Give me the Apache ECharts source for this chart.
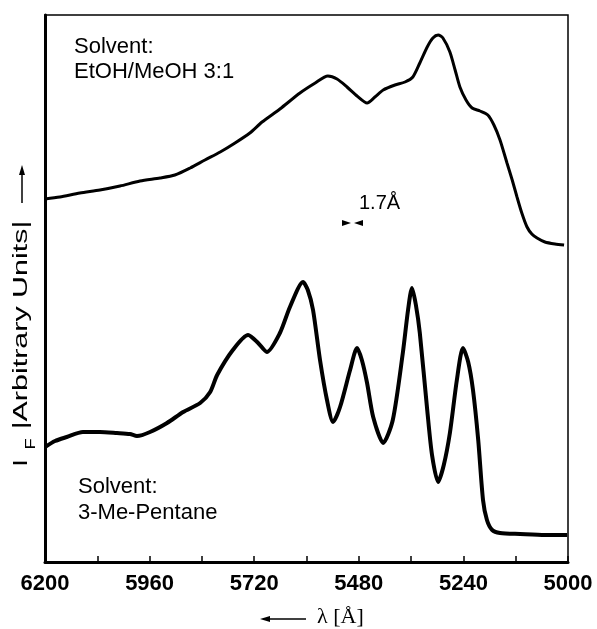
<!DOCTYPE html>
<html>
<head>
<meta charset="utf-8">
<script src="https://cdn.jsdelivr.net/npm/echarts@6/dist/echarts.min.js"></script>
<style>
  html, body { margin: 0; padding: 0; background: #fff; }
  #chart { width: 597px; height: 629px; }
</style>
</head>
<body>
<div id="chart"></div>
<script>
// EtOH/MeOH 3:1 spectrum (upper trace)
const ethanolWavelength = [6200, 6166, 6120, 6074, 6028, 5982, 5936, 5902, 5867, 5833, 5798, 5764, 5730, 5702, 5661, 5615, 5580, 5551, 5530, 5507, 5484, 5461, 5443, 5424, 5397, 5374, 5356, 5340, 5323, 5310, 5298, 5287, 5271, 5259, 5248, 5234, 5220, 5202, 5184, 5170, 5156, 5140, 5128, 5117, 5106, 5094, 5083, 5071, 5053, 5030, 5009];
const ethanolIntensity = [363, 365, 369, 372, 376, 381, 384, 387, 394, 402, 410, 419, 429, 440, 453, 469, 479, 486, 483, 475, 466, 459, 465, 472, 477, 480, 485, 499, 515, 524, 527, 524, 510, 492, 475, 462, 454, 451, 447, 437, 422, 399, 382, 365, 349, 335, 328, 324, 320, 318, 317];

// 3-Me-Pentane spectrum (lower trace)
const pentaneWavelength = [6200, 6177, 6150, 6113, 6074, 6035, 6005, 5989, 5959, 5920, 5883, 5844, 5821, 5805, 5769, 5734, 5711, 5691, 5661, 5638, 5608, 5597, 5585, 5569, 5553, 5539, 5523, 5500, 5484, 5473, 5461, 5447, 5424, 5402, 5379, 5367, 5358, 5349, 5340, 5323, 5312, 5298, 5285, 5271, 5255, 5241, 5229, 5218, 5206, 5195, 5186, 5174, 5156, 5110, 5053, 5002];
const pentaneIntensity = [115, 121, 125, 130, 130, 129, 128, 126, 130, 139, 150, 159, 170, 187, 212, 227, 219, 210, 229, 255, 280, 272, 252, 202, 162, 140, 155, 192, 214, 202, 179, 145, 119, 142, 209, 252, 274, 257, 229, 152, 107, 80, 97, 129, 182, 214, 200, 172, 122, 62, 42, 32, 29, 28, 27, 27];

const tickValues = [5000, 5120, 5240, 5360, 5480, 5600, 5720, 5840, 5960, 6080, 6200];
const labelValues = [5000, 5240, 5480, 5720, 5960, 6200];

const zip = (xs, ys) => xs.map((x, i) => [x, ys[i]]);
const sans = "Liberation Sans, Arial, sans-serif";

const chart = echarts.init(document.getElementById("chart"), null, { renderer: "canvas" });

chart.setOption({
  animation: false,
  grid: {
    left: 45, right: 29, top: 15, bottom: 67,
    show: true, borderColor: "#000", borderWidth: 1.5, backgroundColor: "transparent",
  },
  xAxis: {
    type: "value",
    min: 5000,
    max: 6200,
    inverse: true,
    axisLine: { show: true, lineStyle: { color: "#000", width: 3 } },
    axisTick: { show: true, inside: true, length: 6, customValues: tickValues, lineStyle: { color: "#000", width: 1.5 } },
    axisLabel: {
      customValues: labelValues,
      formatter: (value) => String(value),
      margin: 11,
      color: "#000",
      fontFamily: sans,
      fontWeight: "bold",
      fontSize: 22,
    },
    splitLine: { show: false },
  },
  yAxis: {
    type: "value",
    min: 0,
    max: 547,
    axisLine: { show: true, lineStyle: { color: "#000", width: 3 } },
    axisTick: { show: false },
    axisLabel: { show: false },
    splitLine: { show: false },
  },
  series: [
    {
      name: "EtOH/MeOH 3:1",
      type: "line",
      data: zip(ethanolWavelength, ethanolIntensity),
      showSymbol: false,
      smooth: 0.25,
      lineStyle: { color: "#000", width: 3 },
    },
    {
      name: "3-Me-Pentane",
      type: "line",
      data: zip(pentaneWavelength, pentaneIntensity),
      showSymbol: false,
      smooth: 0.25,
      lineStyle: { color: "#000", width: 4 },
    },
  ],
  graphic: [
    // solvent captions
    { type: "text", left: 74, top: 36, style: { text: "Solvent:", font: `22px ${sans}`, fill: "#000" } },
    { type: "text", left: 74, top: 61, style: { text: "EtOH/MeOH 3:1", font: `22px ${sans}`, fill: "#000" } },
    { type: "text", left: 78, top: 476, style: { text: "Solvent:", font: `22px ${sans}`, fill: "#000" } },
    { type: "text", left: 78, top: 502, style: { text: "3-Me-Pentane", font: `22px ${sans}`, fill: "#000" } },
    // resolution marker
    { type: "text", left: 359, top: 193, style: { text: "1.7Å", font: `20px ${sans}`, fill: "#000" } },
    { type: "polygon", shape: { points: [[342, 220], [351, 223], [342, 226]] }, style: { fill: "#000" } },
    { type: "polygon", shape: { points: [[363, 220], [354, 223], [363, 226]] }, style: { fill: "#000" } },
    // y-axis title, stretched along its length like the original
    {
      type: "text", x: 21, y: 325, rotation: Math.PI / 2, scaleX: 1.45,
      style: { text: "|Arbitrary Units|", font: `21px ${sans}`, fill: "#000", align: "center", verticalAlign: "middle" },
    },
    {
      type: "text", x: 21, y: 463, rotation: Math.PI / 2, scaleX: 1.3,
      style: { text: "I", font: `21px ${sans}`, fill: "#000", align: "center", verticalAlign: "middle" },
    },
    {
      type: "text", x: 31, y: 444, rotation: Math.PI / 2, scaleX: 1.3,
      style: { text: "F", font: `14px ${sans}`, fill: "#000", align: "center", verticalAlign: "middle" },
    },
    { type: "line", shape: { x1: 22, y1: 172, x2: 22, y2: 203 }, style: { stroke: "#000", lineWidth: 1.5 } },
    { type: "polygon", shape: { points: [[19, 175], [22, 165], [25, 175]] }, style: { fill: "#000" } },
    // x-axis title
    { type: "line", shape: { x1: 268, y1: 619, x2: 306, y2: 619 }, style: { stroke: "#000", lineWidth: 1.5 } },
    { type: "polygon", shape: { points: [[270, 616], [260, 619], [270, 622]] }, style: { fill: "#000" } },
    { type: "text", left: 317, top: 606, style: { text: "λ [Å]", font: `22px "Liberation Serif", "Times New Roman", serif`, fill: "#000" } },
  ],
});
</script>
</body>
</html>
